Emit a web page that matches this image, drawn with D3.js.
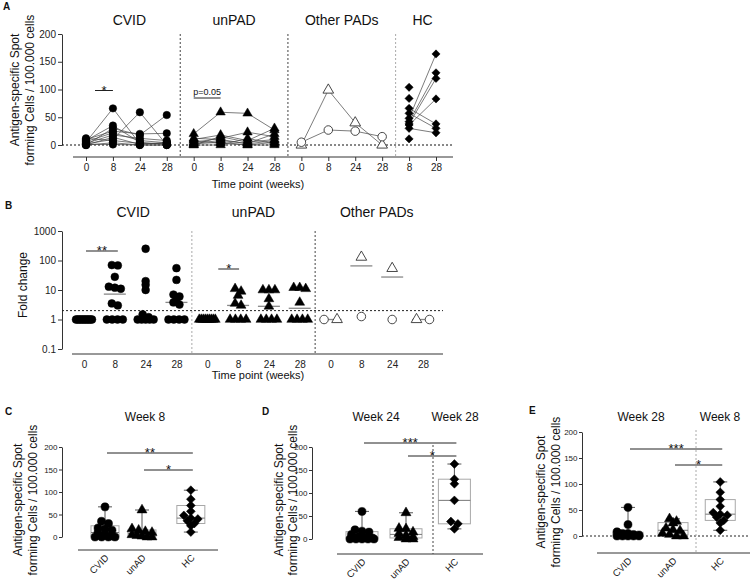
<!DOCTYPE html>
<html><head><meta charset="utf-8">
<script src="https://cdn.jsdelivr.net/npm/d3@7"></script>
<style>body{margin:0;background:#fff}svg text{font-family:"Liberation Sans",Arial,sans-serif}</style>
</head><body><svg id="c" width="750" height="583"></svg>
<script>
// ---------------- DATA ----------------
const weeksA = [0, 8, 24, 28];
const weeksHC = [8, 28];
const groupsA = ["CVID", "unPAD", "Other PADs", "HC"];
const yTicksLin = [0, 50, 100, 150, 200];

// Panel A: patient trajectories (weeks 0, 8, 24, 28)
const cvidA = [
  [5, 66, 2, 3], [2, 10, 59, 0], [8, 35, 5, 1], [0, 30, 18, 54],
  [10, 25, 20, 21], [3, 18, 12, 8], [0, 14, 1, 5], [12, 8, 3, 2],
  [0, 4, 0, 0], [1, 1, 0, 0], [6, 22, 8, 4]
];
const unpadA = [
  [20, 59, 57, 27], [10, 18, 8, 30], [5, 12, 23, 15], [3, 8, 3, 20],
  [0, 15, 5, 10], [8, 3, 0, 5], [0, 0, 12, 2], [2, 5, 0, 0], [12, 10, 2, 8]
];
const otherTriangleA = [0, 99, 40, 0];
const otherCircleA = [5, 27, 25, 15];
// HC: [week 8, week 28]
const hcA = [[104, null], [84, null], [66, 38], [57, 30], [48, 164], [42, 130], [38, 120], [36, 83], [30, 22], [11, null]];

// Panel B: fold change
const groupsB = ["CVID", "unPAD", "Other PADs"];
const yTicksLog = [0.1, 1, 10, 100, 1000];
const cvidB = [
  [1, 1, 1, 1, 1, 1, 1, 1, 1, 1, 1],
  [70, 68, 28, 13, 12, 11, 3.5, 3, 1, 1, 1, 1],
  [250, 20, 15, 10, 1.5, 1.2, 1, 1, 1, 1, 1],
  [55, 22, 7, 6, 5, 3.8, 3.2, 1, 1, 1, 1]
];
const unpadB = [
  [1, 1, 1, 1, 1, 1, 1, 1, 1],
  [11, 9, 6.5, 3.5, 3, 1, 1, 1, 1],
  [10, 10, 10, 5, 2.8, 1, 1, 1, 1],
  [12, 12, 11, 3.8, 1, 1, 1, 1]
];
const otherShapesB = [["circle", "triangle"], ["triangle", "circle"], ["triangle", "circle"], ["triangle", "circle"]];
const otherValuesB = [[1, 1], [130, 1.26], [54, 1], [1, 1]];
const foldThreshold = 2;

// Panels C, D, E
const boxCats = ["CVID", "unAD", "HC"];
const cCVID = [67, 35, 30, 20, 18, 15, 10, 5, 2, 0, 0, 0, 0];
const cUnAD = [60, 18, 15, 12, 10, 5, 3, 2, 0, 0];
const cHC = [104, 84, 70, 57, 48, 42, 40, 36, 30, 25, 11];
const dCVID = [60, 20, 17, 15, 10, 5, 3, 2, 0, 0, 0, 0, 0];
const dUnAD = [57, 23, 22, 15, 12, 8, 5, 3, 0, 0];
const dHC = [163, 130, 120, 84, 38, 33, 22];
const eCVID = [55, 22, 8, 5, 5, 3, 2, 0, 0, 0, 0, 0];
const eUnAD = [33, 28, 25, 15, 12, 10, 5, 3, 0, 0];
const eHC = [104, 84, 70, 57, 45, 42, 40, 36, 30, 25, 11];

// ---------------- HELPERS ----------------
const svg = d3.select("#c");
const FONT = '"Liberation Sans", Arial, sans-serif';
const diamond = { draw(ctx, size) { const r = Math.sqrt(size / 2); ctx.moveTo(0, -r); ctx.lineTo(r, 0); ctx.lineTo(0, r); ctx.lineTo(-r, 0); ctx.closePath(); } };
const shapeType = { circle: d3.symbolCircle, triangle: d3.symbolTriangle, diamond: diamond };
const shapeSize = { circle: 44, triangle: 38, diamond: 34 };
function marker(x, y, shape, open, scale = 1) {
  svg.append("path").attr("d", d3.symbol().type(shapeType[shape]).size(shapeSize[shape] * scale)())
    .attr("transform", `translate(${x},${y})`)
    .attr("fill", open ? "#fff" : "#000").attr("stroke", open ? "#333" : "#000").attr("stroke-width", open ? 0.9 : 0.5);
}
function txt(x, y, s, o = {}) {
  const t = svg.append("text").attr("x", x).attr("y", y).text(s)
    .attr("font-size", o.size || 10).attr("text-anchor", o.anchor || "middle")
    .attr("fill", o.fill || "#111").attr("font-weight", o.weight || "normal")
    .attr("dominant-baseline", o.base || "central");
  if (o.rot !== undefined) t.attr("transform", `rotate(${o.rot},${x},${y})`);
  return t;
}
function seg(x1, y1, x2, y2, o = {}) {
  return svg.append("line").attr("x1", x1).attr("y1", y1).attr("x2", x2).attr("y2", y2)
    .attr("stroke", o.stroke || "#333").attr("stroke-width", o.w || 1)
    .attr("stroke-dasharray", o.dash || null);
}
function styleAxis(g, fs = 10) {
  g.attr("font-family", FONT);
  g.selectAll("path,line").attr("stroke", "#333").attr("stroke-width", 1);
  g.selectAll("text").attr("font-size", fs).attr("fill", "#222");
}
function yLabel(xs, cy, lines, size = 12) {
  lines.forEach((l, i) => txt(xs[i], cy, l, { size, rot: -90 }));
}
function spread(values, yScale, W, dmin, tol) {
  const idx = values.map((v, i) => i).sort((a, b) => yScale(values[a]) - yScale(values[b]));
  const offs = new Array(values.length).fill(0);
  let row = [], y0 = null;
  const flush = () => {
    const n = row.length; if (!n) return;
    const step = n > 1 ? Math.min(dmin, W / (n - 1)) : 0;
    row.forEach((i, k) => offs[i] = (k - (n - 1) / 2) * step);
    row = [];
  };
  idx.forEach(i => { const y = yScale(values[i]); if (y0 === null || Math.abs(y - y0) > tol) { flush(); y0 = y; } row.push(i); });
  flush();
  return offs;
}
function star(x1, x2, y, label, size = 13) {
  seg(x1, y, x2, y, { stroke: "#222", w: 1 });
  txt((x1 + x2) / 2, y + 4, label, { size, base: "alphabetic" });
}
const YLAB = ["Antigen-specific Spot", "forming Cells / 100.000 cells"];

// ---------------- PANEL A ----------------
(function () {
  const keys = [];
  groupsA.forEach(g => (g === "HC" ? weeksHC : weeksA).forEach(w => keys.push(g + "|" + w)));
  const x = d3.scalePoint().domain(keys).range([86, 436]);
  const y = d3.scaleLinear().domain([0, 200]).range([145, 34]);
  const gy = svg.append("g").attr("transform", "translate(62,0)")
    .call(d3.axisLeft(y).tickValues(yTicksLin).tickSize(4).tickSizeOuter(0).tickPadding(2));
  styleAxis(gy);
  const gx = svg.append("g").attr("transform", "translate(0,157)")
    .call(d3.axisBottom(x).tickSize(4).tickPadding(3).tickFormat(k => k.split("|")[1]));
  gx.select(".domain").remove(); styleAxis(gx);
  seg(73, 157, 453, 157, { stroke: "#333" });
  seg(62, y(0), 453, y(0), { stroke: "#111", dash: "2,2" });
  const divColors = ["#444", "#444", "#aaa"];
  for (let i = 0; i < groupsA.length - 1; i++) {
    const a = keys.filter(k => k.startsWith(groupsA[i] + "|")).pop();
    const b = keys.find(k => k.startsWith(groupsA[i + 1] + "|"));
    const xm = (x(a) + x(b)) / 2;
    seg(xm, 34, xm, 157, { stroke: divColors[i], dash: "2,2" });
  }
  groupsA.forEach(g => {
    const ks = keys.filter(k => k.startsWith(g + "|"));
    txt((x(ks[0]) + x(ks[ks.length - 1])) / 2 + (g === "CVID" ? 3 : 0), 20, g, { size: 14 });
  });
  const line = d3.line();
  function series(group, rows, shape) {
    rows.forEach(r => {
      svg.append("path").attr("d", line(r.map((v, i) => [x(group + "|" + weeksA[i]), y(v)])))
        .attr("fill", "none").attr("stroke", "#444").attr("stroke-width", 0.7);
    });
    rows.forEach(r => r.forEach((v, i) => marker(x(group + "|" + weeksA[i]), y(v), shape, false)));
  }
  series("CVID", cvidA, "circle");
  series("unPAD", unpadA, "triangle");
  [[otherTriangleA, "triangle"], [otherCircleA, "circle"]].forEach(([r, s]) => {
    svg.append("path").attr("d", line(r.map((v, i) => [x("Other PADs|" + weeksA[i]), y(v)])))
      .attr("fill", "none").attr("stroke", "#444").attr("stroke-width", 0.7);
  });
  [[otherTriangleA, "triangle"], [otherCircleA, "circle"]].forEach(([r, s]) =>
    r.forEach((v, i) => marker(x("Other PADs|" + weeksA[i]), y(v), s, true, 1.3)));
  hcA.forEach(p => {
    if (p[0] != null && p[1] != null)
      seg(x("HC|8"), y(p[0]), x("HC|28"), y(p[1]), { stroke: "#444", w: 0.7 });
  });
  hcA.forEach(p => p.forEach((v, i) => { if (v != null) marker(x("HC|" + weeksHC[i]), y(v), "diamond", false); }));
  star(x("CVID|0") + 9, x("CVID|8"), y(100) + 1, "*");
  seg(x("unPAD|0"), 98, x("unPAD|8"), 98, { stroke: "#222" });
  txt((x("unPAD|0") + x("unPAD|8")) / 2, 92, "p=0.05", { size: 9 });
  txt(258, 184, "Time point (weeks)", { size: 11 });
  yLabel([15, 30], 90, YLAB, 12);
  txt(3, 6, "A", { size: 10, weight: "bold", anchor: "start" });
})();

// ---------------- PANEL B ----------------
(function () {
  const keys = [];
  groupsB.forEach(g => weeksA.forEach(w => keys.push(g + "|" + w)));
  const x = d3.scalePoint().domain(keys).range([84, 423]);
  const y = d3.scaleLog().domain([0.1, 1000]).range([349, 231]);
  const gy = svg.append("g").attr("transform", "translate(62,0)")
    .call(d3.axisLeft(y).tickValues(yTicksLog).tickFormat(d => String(d)).tickSize(4).tickSizeOuter(0).tickPadding(2));
  styleAxis(gy);
  const gx = svg.append("g").attr("transform", "translate(0,354)")
    .call(d3.axisBottom(x).tickSize(0).tickPadding(7).tickFormat(k => k.split("|")[1]));
  gx.select(".domain").remove(); styleAxis(gx);
  seg(72, 354, 443, 354, { stroke: "#333" });
  seg(62, y(foldThreshold), 443, y(foldThreshold), { stroke: "#222", dash: "2,2" });
  const divColors = ["#aaa", "#444"];
  for (let i = 0; i < groupsB.length - 1; i++) {
    const xm = (x(groupsB[i] + "|28") + x(groupsB[i + 1] + "|0")) / 2;
    seg(xm, 231, xm, 354, { stroke: divColors[i], dash: "2,2" });
  }
  groupsB.forEach((g, i) => txt((x(g + "|0") + x(g + "|28")) / 2 + (i === 0 ? 3 : 0), 212, g, { size: 14 }));
  function col(group, wi, vals, shapes, open, W, dmin, sc) {
    const cx = x(group + "|" + weeksA[wi]);
    const med = d3.median(vals);
    const offs = spread(vals, y, W, dmin, 3.5);
    seg(cx - 11, y(med), cx + 11, y(med), { stroke: "#888", w: 1.3 });
    vals.forEach((v, i) => marker(cx + offs[i], y(v), shapes[i], open, sc));
  }
  cvidB.forEach((vals, wi) => col("CVID", wi, vals, vals.map(() => "circle"), false, 16, 6, 1.1));
  unpadB.forEach((vals, wi) => col("unPAD", wi, vals, vals.map(() => "triangle"), false, 16, 6, 1.1));
  otherValuesB.forEach((vals, wi) => col("Other PADs", wi, vals, otherShapesB[wi], true, 13, 13, 1.3));
  star(x("CVID|0") + 2, x("CVID|8") + 3, 251, "**");
  star(x("unPAD|0") + 11, x("unPAD|8") + 1, 269, "*");
  txt(258, 375, "Time point (weeks)", { size: 11 });
  txt(23, 285, "Fold change", { size: 12, rot: -90 });
  txt(5, 205, "B", { size: 10, weight: "bold", anchor: "start" });
})();

// ---------------- PANELS C, D, E ----------------
function quant(s, p) {
  const n = s.length; let h = (n + 1) * p; h = Math.max(1, Math.min(n, h));
  const lo = Math.floor(h); if (lo >= n) return s[n - 1];
  return s[lo - 1] + (h - lo) * (s[lo] - s[lo - 1]);
}
function boxPanel(c) {
  const y = d3.scaleLinear().domain([0, 200]).range([c.y0, c.y200]);
  const xi = d3.scaleLinear().domain([0, 1]).range([c.first, c.first + c.step]);
  const xpos = i => xi(i + (i === 2 ? c.gap : 0));
  const gy = svg.append("g").attr("transform", `translate(${c.yAxisX},0)`)
    .call(d3.axisLeft(y).tickValues(yTicksLin).tickSize(3).tickSizeOuter(0).tickPadding(1.5));
  styleAxis(gy, 8);
  seg(c.axisX[0], c.axisY, c.axisX[1], c.axisY, { stroke: "#333" });
  boxCats.forEach((cat, i) => {
    const cx = xpos(i);
    txt(cx + 2, c.axisY + 6, cat, { size: 9.5, anchor: "end", rot: -45, base: "central" });
  });
  if (c.zero) seg(c.yAxisX, y(0), c.axisX[1], y(0), { stroke: "#222", dash: "2,2" });
  if (c.divider) seg(c.divider[0], c.divider[1], c.divider[0], c.axisY, { stroke: c.divider[2], dash: "2,2" });
  c.titles.forEach(t => txt(t[1], 417, t[0], { size: 12 }));
  const shapes = ["circle", "triangle", "diamond"];
  c.data.forEach((vals, i) => {
    const cx = xpos(i);
    const s = vals.slice().sort(d3.ascending);
    const q1 = quant(s, 0.25), md = quant(s, 0.5), q3 = quant(s, 0.75);
    const lo = s[0], hi = s[s.length - 1], bw = c.boxW, cap = 7;
    seg(cx, y(hi), cx, y(q3), { stroke: "#555" });
    seg(cx, y(lo), cx, y(q1), { stroke: "#555" });
    seg(cx - cap, y(hi), cx + cap, y(hi), { stroke: "#555" });
    seg(cx - cap, y(lo), cx + cap, y(lo), { stroke: "#555" });
    svg.append("rect").attr("x", cx - bw / 2).attr("y", y(q3)).attr("width", bw).attr("height", Math.max(0.5, y(q1) - y(q3)))
      .attr("fill", "none").attr("stroke", "#a8a8a8").attr("stroke-width", 1);
    seg(cx - bw / 2, y(md), cx + bw / 2, y(md), { stroke: "#777" });
    const offs = spread(vals, y, c.spreadW, 7, 4);
    vals.forEach((v, k) => marker(cx + offs[k], y(v), shapes[i], false, 1.15));
  });
  c.brackets.forEach(b => star(xpos(b[0]) + 2, xpos(b[1]) + 2, b[2], b[3]));
  yLabel(c.ylx, c.ylcy, YLAB, 12);
  txt(c.letter[1], c.letter[2], c.letter[0], { size: 10, weight: "bold", anchor: "start" });
}
boxPanel({ yAxisX: 62, y0: 537, y200: 447, axisY: 550, axisX: [78, 218], first: 105, step: 37, gap: 0.32, boxW: 28, spreadW: 20,
  data: [cCVID, cUnAD, cHC], zero: false, divider: null, titles: [["Week 8", 145]],
  brackets: [[0, 2, 453, "**"], [1, 2, 470, "*"]], ylx: [18, 33], ylcy: 500, letter: ["C", 5, 411] });
boxPanel({ yAxisX: 312, y0: 539, y200: 447, axisY: 554, axisX: [337, 483], first: 362, step: 44, gap: 0.1, boxW: 32, spreadW: 24,
  data: [dCVID, dUnAD, dHC], zero: false, divider: [433, 445, "#444"], titles: [["Week 24", 376], ["Week 28", 455]],
  brackets: [[0, 2, 443, "***"], [1, 2, 456, "*"]], ylx: [279, 293], ylcy: 500, letter: ["D", 262, 411] });
boxPanel({ yAxisX: 582, y0: 536, y200: 432, axisY: 553, axisX: [597, 750], first: 628, step: 45, gap: 0.05, boxW: 30, spreadW: 22,
  data: [eCVID, eUnAD, eHC], zero: true, divider: [696, 430, "#aaa"], titles: [["Week 28", 641], ["Week 8", 720]],
  brackets: [[0, 2, 449, "***"], [1, 2, 465, "*"]], ylx: [541, 556], ylcy: 492, letter: ["E", 529, 410] });
</script></body></html>
